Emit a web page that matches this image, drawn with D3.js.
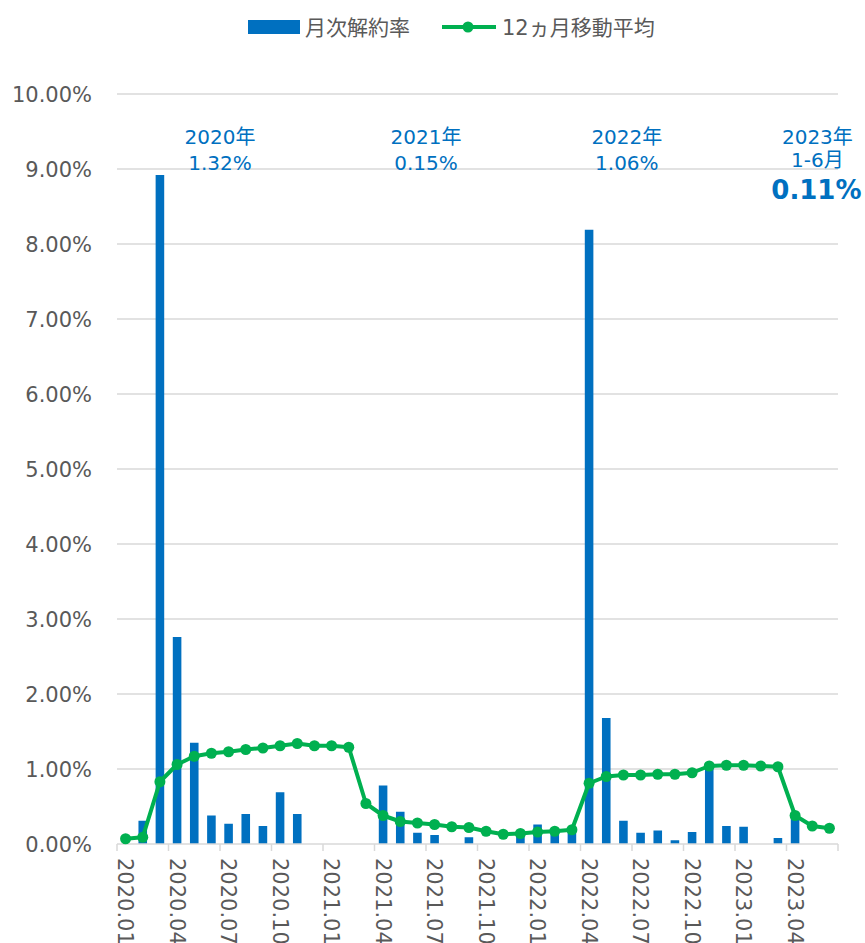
<!DOCTYPE html>
<html><head><meta charset="utf-8">
<script src="https://cdn.jsdelivr.net/npm/d3@7"></script>
<style>
html,body{margin:0;padding:0;background:#fff;}
text{font-family:"DejaVu Sans","Noto Sans CJK JP",sans-serif;}
</style></head>
<body><svg id="c" width="865" height="943"></svg>
<script>
const categories = [
 "2020.01","2020.02","2020.03","2020.04","2020.05","2020.06","2020.07","2020.08","2020.09","2020.10","2020.11","2020.12",
 "2021.01","2021.02","2021.03","2021.04","2021.05","2021.06","2021.07","2021.08","2021.09","2021.10","2021.11","2021.12",
 "2022.01","2022.02","2022.03","2022.04","2022.05","2022.06","2022.07","2022.08","2022.09","2022.10","2022.11","2022.12",
 "2023.01","2023.02","2023.03","2023.04","2023.05","2023.06"];
const monthlyRate = [
 0, 0.31, 8.92, 2.76, 1.35, 0.38, 0.27, 0.40, 0.24, 0.69, 0.40, 0,
 0, 0, 0, 0.78, 0.43, 0.15, 0.12, 0, 0.09, 0, 0, 0.14,
 0.26, 0.20, 0.19, 8.19, 1.68, 0.31, 0.15, 0.18, 0.05, 0.16, 1.05, 0.24,
 0.23, 0, 0.08, 0.40, 0, 0];
const movingAvg = [
 0.07, 0.09, 0.83, 1.06, 1.17, 1.21, 1.23, 1.26, 1.28, 1.31, 1.34, 1.31,
 1.31, 1.29, 0.54, 0.38, 0.30, 0.28, 0.26, 0.23, 0.22, 0.17, 0.13, 0.14,
 0.16, 0.17, 0.19, 0.81, 0.90, 0.92, 0.92, 0.93, 0.93, 0.95, 1.04, 1.05,
 1.05, 1.04, 1.03, 0.38, 0.24, 0.21];
const yTicks = [0,1,2,3,4,5,6,7,8,9,10];
const seriesNames = ["月次解約率","12ヵ月移動平均"];
const annoYears = ["2020年","2021年","2022年","2023年"];
const annoSub = ["1.32%","0.15%","1.06%","1-6月"];
const annoBig = ["","","","0.11%"];
const annoAt = ["2020.06","2021.06","2022.06","2023.04"];
const annoShift = [1, 1, 0.7, 1.8];

const blue="#0070C0", green="#00B050", grid="#d9d9d9", txt="#595959";
const svg=d3.select("#c");
const L=117, R=838, T=94, B=844;
const xb=d3.scaleBand().domain(categories).range([L,R]);
const y=d3.scaleLinear().domain([0,10]).range([B,T]);

// gridlines
svg.append("g").selectAll("line").data(yTicks.filter(d=>d>0)).join("line")
 .attr("x1",L).attr("x2",R).attr("y1",d=>y(d)).attr("y2",d=>y(d))
 .attr("stroke",grid).attr("stroke-width",1.5);
// y labels
svg.append("g").selectAll("text").data(yTicks).join("text")
 .attr("x",92).attr("y",d=>y(d)).attr("dy","0.36em").attr("text-anchor","end")
 .attr("font-size",21).attr("fill",txt).text(d=>d.toFixed(2)+"%");

// bars
svg.append("g").selectAll("rect").data(monthlyRate.map((v,i)=>({c:categories[i],v})).filter(d=>d.v>0)).join("rect")
 .attr("x",d=>xb(d.c)+xb.bandwidth()*0.25).attr("width",xb.bandwidth()*0.5)
 .attr("y",d=>y(d.v)).attr("height",d=>B-y(d.v)).attr("fill",blue);

// x axis
const xa=svg.append("g");
xa.append("line").attr("x1",L).attr("x2",R).attr("y1",B).attr("y2",B).attr("stroke",grid).attr("stroke-width",1.5);
const tickIdx=d3.range(0,categories.length+1,3);
xa.selectAll("line.t").data(tickIdx).join("line").attr("class","t")
 .attr("x1",i=>L+i*xb.step()).attr("x2",i=>L+i*xb.step())
 .attr("y1",B).attr("y2",B+7).attr("stroke",grid).attr("stroke-width",1.5);
xa.selectAll("text").data(categories.filter((c,i)=>i%3===0)).join("text")
 .attr("transform",d=>`translate(${xb(d)+xb.bandwidth()/2},858) rotate(90)`)
 .attr("dy","0.36em").attr("font-size",21).attr("fill",txt).text(d=>d);

// line
const pts=movingAvg.map((v,i)=>({c:categories[i],v}));
const cx=d=>xb(d.c)+xb.bandwidth()/2;
svg.append("path").datum(pts).attr("fill","none").attr("stroke",green).attr("stroke-width",4)
 .attr("stroke-linejoin","round").attr("d",d3.line().x(cx).y(d=>y(d.v)));
svg.append("g").selectAll("circle").data(pts).join("circle")
 .attr("cx",cx).attr("cy",d=>y(d.v)).attr("r",5.5).attr("fill",green);

// annotations
const ag=svg.append("g").attr("fill",blue).attr("text-anchor","middle");
annoYears.forEach((t,i)=>{
  const isLast=i===annoYears.length-1;
  const ax= xb(annoAt[i])+xb.bandwidth()*annoShift[i];
  ag.append("text").attr("x",ax).attr("y",144).attr("font-size",20).text(t);
  ag.append("text").attr("x",ax).attr("y",isLast?167:170).attr("font-size",20).text(annoSub[i]);
  if(annoBig[i]) ag.append("text").attr("x",ax-1).attr("y",199).attr("font-size",26).attr("font-weight","bold").text(annoBig[i]);
});

// legend
const lg=svg.append("g");
lg.append("rect").attr("x",248).attr("y",20).attr("width",52).attr("height",14).attr("fill",blue);
lg.append("text").attr("x",305).attr("y",27).attr("dy","0.36em").attr("font-size",21).attr("fill",txt).text(seriesNames[0]);
lg.append("line").attr("x1",442).attr("x2",496).attr("y1",27).attr("y2",27).attr("stroke",green).attr("stroke-width",4);
lg.append("circle").attr("cx",468).attr("cy",27).attr("r",5.5).attr("fill",green);
lg.append("text").attr("x",502).attr("y",27).attr("dy","0.36em").attr("font-size",21).attr("fill",txt).text(seriesNames[1]);
</script></body></html>
